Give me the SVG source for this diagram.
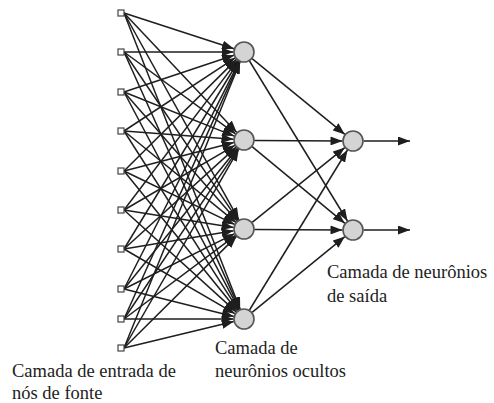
<svg xmlns="http://www.w3.org/2000/svg" width="494" height="403" viewBox="0 0 494 403">
<style>
.c{stroke:#1e1e1e;stroke-width:1.5;fill:none;marker-end:url(#ah)}
.in{fill:#fff;stroke:#444;stroke-width:1.2}
.nd{fill:#d4d4d4;stroke:#555;stroke-width:1.6}
</style>
<defs>
<marker id="ah" markerUnits="userSpaceOnUse" markerWidth="12" markerHeight="9" refX="12" refY="4.5" orient="auto">
<path d="M0,0 L12,4.5 L0,9 z" fill="#1e1e1e"/>
</marker>
</defs>
<rect width="494" height="403" fill="#fff"/>
<g id="connectors">
<line class="c" x1="124" y1="13" x2="234.0" y2="48.8"/>
<line class="c" x1="124" y1="52" x2="233.5" y2="52"/>
<line class="c" x1="124" y1="92" x2="234.0" y2="55.3"/>
<line class="c" x1="124" y1="131" x2="235.2" y2="57.8"/>
<line class="c" x1="124" y1="171" x2="236.5" y2="59.4"/>
<line class="c" x1="124" y1="210" x2="237.6" y2="60.4"/>
<line class="c" x1="124" y1="249" x2="238.5" y2="61.0"/>
<line class="c" x1="124" y1="289" x2="239.3" y2="61.4"/>
<line class="c" x1="124" y1="319" x2="239.7" y2="61.6"/>
<line class="c" x1="124" y1="348" x2="240.1" y2="61.7"/>
<line class="c" x1="124" y1="13" x2="236.8" y2="132.4"/>
<line class="c" x1="124" y1="52" x2="235.5" y2="133.8"/>
<line class="c" x1="124" y1="92" x2="234.2" y2="136.1"/>
<line class="c" x1="124" y1="131" x2="233.5" y2="139.2"/>
<line class="c" x1="124" y1="171" x2="233.8" y2="142.6"/>
<line class="c" x1="124" y1="210" x2="234.9" y2="145.3"/>
<line class="c" x1="124" y1="249" x2="236.2" y2="147.1"/>
<line class="c" x1="124" y1="289" x2="237.4" y2="148.2"/>
<line class="c" x1="124" y1="319" x2="238.2" y2="148.7"/>
<line class="c" x1="124" y1="348" x2="238.8" y2="149.1"/>
<line class="c" x1="124" y1="13" x2="238.9" y2="219.8"/>
<line class="c" x1="124" y1="52" x2="238.1" y2="220.3"/>
<line class="c" x1="124" y1="92" x2="237.1" y2="221.1"/>
<line class="c" x1="124" y1="131" x2="235.9" y2="222.4"/>
<line class="c" x1="124" y1="171" x2="234.6" y2="224.4"/>
<line class="c" x1="124" y1="210" x2="233.6" y2="227.4"/>
<line class="c" x1="124" y1="249" x2="233.6" y2="230.7"/>
<line class="c" x1="124" y1="289" x2="234.6" y2="233.7"/>
<line class="c" x1="124" y1="319" x2="235.6" y2="235.3"/>
<line class="c" x1="124" y1="348" x2="236.5" y2="236.4"/>
<line class="c" x1="124" y1="13" x2="240.2" y2="309.2"/>
<line class="c" x1="124" y1="52" x2="239.7" y2="309.4"/>
<line class="c" x1="124" y1="92" x2="239.1" y2="309.7"/>
<line class="c" x1="124" y1="131" x2="238.3" y2="310.1"/>
<line class="c" x1="124" y1="171" x2="237.4" y2="310.8"/>
<line class="c" x1="124" y1="210" x2="236.2" y2="311.9"/>
<line class="c" x1="124" y1="249" x2="234.9" y2="313.7"/>
<line class="c" x1="124" y1="289" x2="233.8" y2="316.4"/>
<line class="c" x1="124" y1="319" x2="233.5" y2="319"/>
<line class="c" x1="124" y1="348" x2="233.8" y2="321.5"/>
<line class="c" x1="252.1" y1="58.6" x2="344.9" y2="134.4"/>
<line class="c" x1="249.5" y1="61.0" x2="347.5" y2="221.0"/>
<line class="c" x1="254.5" y1="140.5" x2="342.5" y2="141"/>
<line class="c" x1="252.1" y1="146.7" x2="344.9" y2="223.3"/>
<line class="c" x1="252.2" y1="222.4" x2="344.8" y2="147.6"/>
<line class="c" x1="254.5" y1="229.5" x2="342.5" y2="230"/>
<line class="c" x1="249.5" y1="310.0" x2="347.5" y2="150.0"/>
<line class="c" x1="252.1" y1="312.4" x2="344.9" y2="236.6"/>
<line class="c" x1="363.5" y1="141" x2="410" y2="141"/>
<line class="c" x1="363.5" y1="230" x2="410" y2="230"/>
</g>
<g id="input-nodes">
<rect id="in1" class="in" x="118" y="10" width="6" height="6"/>
<rect id="in2" class="in" x="118" y="49" width="6" height="6"/>
<rect id="in3" class="in" x="118" y="89" width="6" height="6"/>
<rect id="in4" class="in" x="118" y="128" width="6" height="6"/>
<rect id="in5" class="in" x="118" y="168" width="6" height="6"/>
<rect id="in6" class="in" x="118" y="207" width="6" height="6"/>
<rect id="in7" class="in" x="118" y="246" width="6" height="6"/>
<rect id="in8" class="in" x="118" y="286" width="6" height="6"/>
<rect id="in9" class="in" x="118" y="316" width="6" height="6"/>
<rect id="in10" class="in" x="118" y="345" width="6" height="6"/>
</g>
<g id="hidden-nodes">
<circle id="h1" class="nd" cx="244" cy="52" r="10"/>
<circle id="h2" class="nd" cx="244" cy="140" r="10"/>
<circle id="h3" class="nd" cx="244" cy="229" r="10"/>
<circle id="h4" class="nd" cx="244" cy="319" r="10"/>
</g>
<g id="output-nodes">
<circle id="o1" class="nd" cx="353" cy="141" r="10"/>
<circle id="o2" class="nd" cx="353" cy="230" r="10"/>
</g>
<g id="labels" font-family="'Liberation Serif', 'DejaVu Serif', serif" font-size="18.5" fill="#222">
<text x="12" y="377">Camada de entrada de</text>
<text x="12" y="399">nós de fonte</text>
<text x="215" y="354">Camada de</text>
<text x="215" y="377">neurônios ocultos</text>
<text x="327" y="278">Camada de neurônios</text>
<text x="327" y="302">de saída</text>
</g>
</svg>
